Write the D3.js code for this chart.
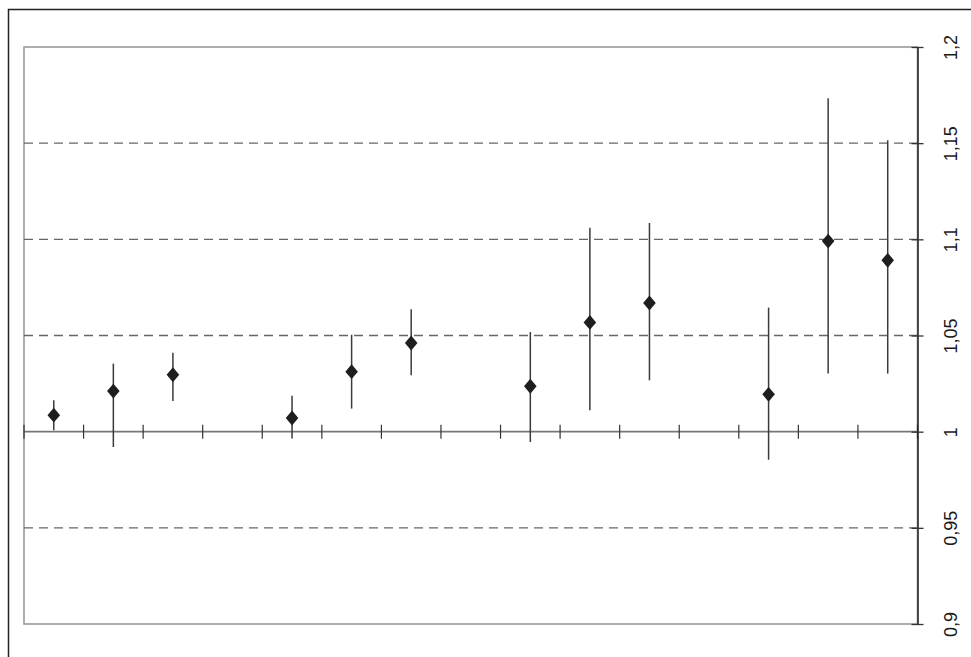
<!DOCTYPE html>
<html>
<head>
<meta charset="utf-8">
<script src="https://cdn.jsdelivr.net/npm/d3@7"></script>
<style>
  html, body { margin: 0; padding: 0; background: #fff; }
  svg { display: block; }
</style>
</head>
<body>
<svg id="chart" width="971" height="657"></svg>
<script>
// Category slots along the horizontal axis (empty slots separate the groups)
const categories = ["c1","c2","c3","c4","c5","c6","c7","c8","c9","c10","c11","c12","c13","c14","c15"];
// Point estimates per category (null = no estimate)
const estimates = [1.0086, 1.0211, 1.0296, null, 1.0071, 1.0312, 1.0461, null, 1.0236, 1.0568, 1.0669, null, 1.0194, 1.0991, 1.0891];
// Lower and upper bounds of each interval
const lowerBounds = [1.0007, 0.9920, 1.0159, null, 0.9964, 1.0120, 1.0293, null, 0.9946, 1.0111, 1.0267, null, 0.9854, 1.0302, 1.0302];
const upperBounds = [1.0163, 1.0354, 1.0410, null, 1.0187, 1.0504, 1.0636, null, 1.0518, 1.1060, 1.1085, null, 1.0645, 1.1733, 1.1515];
// Value axis ticks and their labels
const yTicks = [0.9, 0.95, 1, 1.05, 1.1, 1.15, 1.2];
const yTickLabels = ["0,9", "0,95", "1", "1,05", "1,1", "1,15", "1,2"];
const dashedLines = [0.95, 1.05, 1.1, 1.15];

(function draw() {
  const svg = d3.select("#chart");
  const plotLeft = 24, plotRight = 917.5, plotTop = 47, plotBottom = 624;

  const x = d3.scaleBand().domain(categories).range([plotLeft, plotRight]).padding(0);
  const y = d3.scaleLinear().domain([0.9, 1.2]).range([plotBottom, plotTop]);

  // Outer frame
  svg.append("rect")
    .attr("x", 8.5).attr("y", 9.5).attr("width", 1000).attr("height", 700)
    .attr("fill", "none").attr("stroke", "#222").attr("stroke-width", 1.5);

  // Plot area frame
  svg.append("rect")
    .attr("x", plotLeft).attr("y", plotTop)
    .attr("width", plotRight - plotLeft).attr("height", plotBottom - plotTop)
    .attr("fill", "none").attr("stroke", "#9a9a9a").attr("stroke-width", 1.6);

  // Dashed reference lines
  svg.append("g").selectAll("line").data(dashedLines).join("line")
    .attr("x1", plotLeft).attr("x2", plotRight)
    .attr("y1", d => y(d)).attr("y2", d => y(d))
    .attr("stroke", "#666").attr("stroke-width", 1.4)
    .attr("stroke-dasharray", "9,6");

  // Baseline at 1 with category separators
  const baseY = y(1);
  svg.append("line")
    .attr("x1", plotLeft).attr("x2", plotRight).attr("y1", baseY).attr("y2", baseY)
    .attr("stroke", "#777").attr("stroke-width", 1.6);
  const boundaries = categories.map(c => x(c))
    .concat([x(categories[categories.length - 1]) + x.bandwidth()]);
  svg.append("g").selectAll("line").data(boundaries).join("line")
    .attr("x1", d => d).attr("x2", d => d)
    .attr("y1", baseY - 7).attr("y2", baseY + 7)
    .attr("stroke", "#333").attr("stroke-width", 1.2);

  // Value axis on the right
  const yAxis = d3.axisRight(y)
    .tickValues(yTicks)
    .tickFormat((d, i) => yTickLabels[i])
    .tickSizeInner(6).tickSizeOuter(0).tickPadding(0);
  const gy = svg.append("g").attr("transform", `translate(${plotRight},0)`).call(yAxis)
    .attr("font-size", 18)
    .attr("font-family", "Liberation Sans, Arial, sans-serif");
  gy.select(".domain").attr("stroke", "#222").attr("stroke-width", 1.5);
  gy.selectAll(".tick line").attr("x1", -6).attr("x2", 6).attr("stroke", "#333").attr("stroke-width", 1.3);
  gy.selectAll(".tick text")
    .attr("x", 0).attr("dy", null)
    .attr("transform", "translate(33,0) rotate(-90)")
    .attr("text-anchor", "middle")
    .attr("dominant-baseline", "central")
    .attr("fill", "#1a1a1a");

  // Interval whiskers and point markers
  const rows = categories.map((c, i) => ({ c, est: estimates[i], lo: lowerBounds[i], hi: upperBounds[i] }))
    .filter(d => d.est !== null);
  const cx = d => x(d.c) + x.bandwidth() / 2;

  svg.append("g").selectAll("line").data(rows).join("line")
    .attr("x1", cx).attr("x2", cx)
    .attr("y1", d => y(d.hi)).attr("y2", d => y(d.lo))
    .attr("stroke", "#3a3a3a").attr("stroke-width", 1.5);

  svg.append("g").selectAll("path").data(rows).join("path")
    .attr("d", d3.symbol(d3.symbolDiamond2, 140))
    .attr("transform", d => `translate(${cx(d)},${y(d.est)}) scale(0.85,1)`)
    .attr("fill", "#1e1e1e");
})();
</script>
</body>
</html>
